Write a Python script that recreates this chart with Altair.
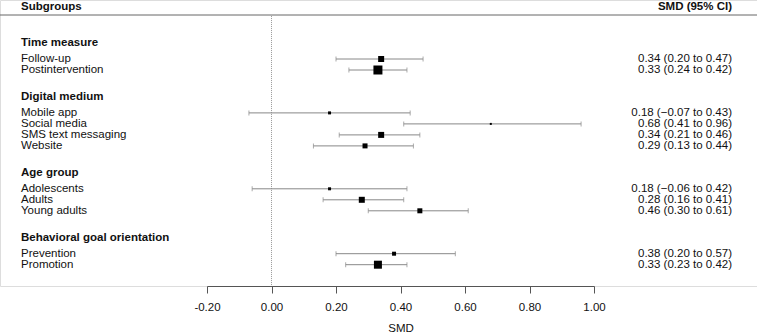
import altair as alt
import pandas as pd

# ---------------- data ----------------
groups = ["Time measure", "Digital medium", "Age group", "Behavioral goal orientation"]
subgroups = [
    ["Follow-up", "Postintervention"],
    ["Mobile app", "Social media", "SMS text messaging", "Website"],
    ["Adolescents", "Adults", "Young adults"],
    ["Prevention", "Promotion"],
]
smd = [[0.34, 0.33], [0.18, 0.68, 0.34, 0.29], [0.18, 0.28, 0.46], [0.38, 0.33]]
lower = [[0.20, 0.24], [-0.07, 0.41, 0.21, 0.13], [-0.06, 0.16, 0.30], [0.20, 0.23]]
upper = [[0.47, 0.42], [0.43, 0.96, 0.46, 0.44], [0.42, 0.41, 0.61], [0.57, 0.42]]
box_side = [[6, 9], [3, 2, 6, 5], [3, 6, 5], [4, 8]]  # relative weight (square side)
tick_values = [-0.2, 0.0, 0.2, 0.4, 0.6, 0.8, 1.0]

# ---------------- layout (row units) ----------------
ROW0 = 59 / 11.0
HEAD_OFF = 1.45
GROUP_GAP = 3.9
YMAX = 26.0

rows = []
heads = []
first = ROW0
for g, subs, m, lo, hi, bs in zip(groups, subgroups, smd, lower, upper, box_side):
    heads.append({"label": g, "pos": first - HEAD_OFF})
    for i, (s, e, l, h, b) in enumerate(zip(subs, m, lo, hi, bs)):
        txt = f"{e:.2f} ({l:.2f} to {h:.2f})".replace("-", "\u2212")
        rows.append({"label": s, "pos": first + i, "est": e, "lo": l, "hi": h,
                     "size": b * b, "ci": txt})
    first = first + len(subs) - 1 + GROUP_GAP

df = pd.DataFrame(rows)
dh = pd.DataFrame(heads)
dref = pd.DataFrame({"x": [0.0], "y1": [1.45], "y2": [YMAX]})

xscale = alt.Scale(domain=[-0.2, 1.0], range=[207, 594], zero=False, nice=False)
yscale = alt.Scale(domain=[0, YMAX], range=[0, 286], zero=False, nice=False)
Y = alt.Y("pos:Q", scale=yscale, axis=None)

xaxis = alt.Axis(values=tick_values, labelExpr="replace(format(datum.value, '.2f'), '\u2212', '-')",
                 tickSize=7, tickColor="#555",
                 domainColor="#555", labelFontSize=11.5, labelColor="#111",
                 labelPadding=8, labelFlush=False, title="SMD", titleFontSize=11.5,
                 titleFontWeight="normal", titleColor="#111", titlePadding=10, grid=False)

base = alt.Chart(df)

ref = alt.Chart(dref).mark_rule(color="#999", strokeDash=[1, 1], strokeWidth=1).encode(
    x=alt.X("x:Q", scale=xscale, axis=xaxis),
    y=alt.Y("y1:Q", scale=yscale, axis=None),
    y2="y2:Q",
)

ci = base.mark_rule(color="#888", strokeWidth=1).encode(
    x=alt.X("lo:Q", scale=xscale), x2="hi:Q", y=Y)

cap_lo = base.mark_tick(orient="vertical", color="#888", size=5, thickness=1).encode(
    x=alt.X("lo:Q", scale=xscale), y=Y)
cap_hi = base.mark_tick(orient="vertical", color="#888", size=5, thickness=1).encode(
    x=alt.X("hi:Q", scale=xscale), y=Y)

boxes = base.mark_square(color="black", filled=True, opacity=1).encode(
    x=alt.X("est:Q", scale=xscale), y=Y, size=alt.Size("size:Q", scale=None, legend=None))

labels = base.mark_text(align="left", baseline="middle", fontSize=11.5, color="#111").encode(
    x=alt.value(21), y=Y, text="label:N")

heads_t = alt.Chart(dh).mark_text(align="left", baseline="middle", fontSize=11.5,
                                   fontWeight="bold", color="#111").encode(
    x=alt.value(21), y=alt.Y("pos:Q", scale=yscale, axis=None), text="label:N")

ci_t = base.mark_text(align="right", baseline="middle", fontSize=11.5, color="#111").encode(
    x=alt.value(732), y=Y, text="ci:N")

top_head = alt.Chart(pd.DataFrame({"l": ["Subgroups"], "r": ["SMD (95% CI)"]}))
left_h = top_head.mark_text(align="left", baseline="middle", fontSize=11.5,
                            fontWeight="bold", color="#111").encode(
    x=alt.value(21), y=alt.value(6.5), text="l:N")
right_h = top_head.mark_text(align="right", baseline="middle", fontSize=11.5,
                             fontWeight="bold", color="#111").encode(
    x=alt.value(732), y=alt.value(6.5), text="r:N")
hline = top_head.mark_rule(color="#666", strokeWidth=1).encode(
    x=alt.value(0), x2=alt.value(757), y=alt.value(15))

chart = alt.layer(hline, ref, ci, cap_lo, cap_hi, boxes, labels, heads_t, ci_t,
                  left_h, right_h).properties(
    width=757, height=286,
    autosize=alt.AutoSizeParams(type="none"),
    padding={"left": 0, "top": 0, "right": 0, "bottom": 47},
).configure_view(stroke=None).configure(font="Liberation Sans")

chart.save("out.html", embed_options={"renderer": "svg", "actions": False})
